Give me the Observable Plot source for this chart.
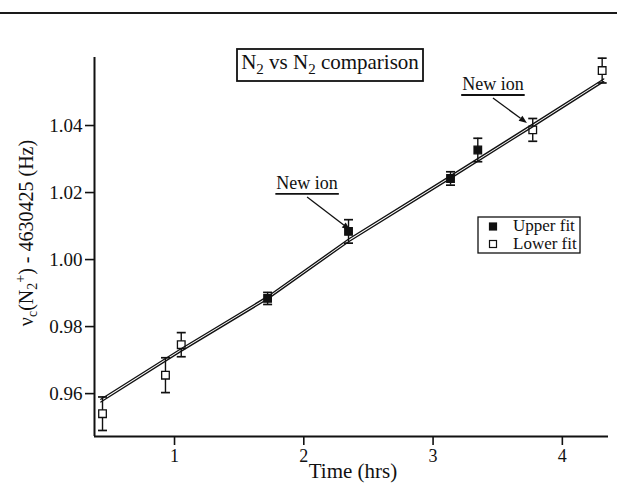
<!DOCTYPE html>
<html>
<head>
<meta charset="utf-8">
<script src="https://cdn.jsdelivr.net/npm/d3@7"></script>
<script src="https://cdn.jsdelivr.net/npm/@observablehq/plot@0.6"></script>
<style>
  body { margin: 0; background: #fff; }
  #wrap { position: relative; width: 617px; height: 487px; overflow: hidden; background: #fff; }
  #rule { position: absolute; left: 0; top: 12px; width: 617px; height: 2px; background: #1a1a1a; }
  #wrap svg { position: absolute; left: 0; top: 0; }
</style>
</head>
<body>
<div id="wrap"><div id="rule"></div></div>
<script>
// Axis ticks
const xTicks = [1, 2, 3, 4];
const yTicks = [0.96, 0.98, 1.00, 1.02, 1.04];
const xDomain = [0.381, 4.357];
const yDomain = [0.9472, 1.0603];

// Cyclotron frequency measurements (offset from 4630425 Hz) with 1σ errors
const time  = [0.443, 0.930, 1.052, 1.720, 2.346, 3.135, 3.346, 3.771, 4.308];
const freq  = [0.9540, 0.9655, 0.9746, 0.9884, 1.0084, 1.0242, 1.0327, 1.0387, 1.0564];
const err   = [0.0050, 0.0052, 0.0036, 0.0018, 0.0035, 0.0020, 0.0035, 0.0034, 0.0037];
const fitOf = ["Lower", "Lower", "Lower", "Upper", "Upper", "Upper", "Upper", "Lower", "Lower"];

// Drift fits (upper and lower)
const fitTime  = [0.43, 1.05, 1.72, 2.35, 3.13, 3.77, 4.32];
const fitUpper = [0.9583, 0.9734, 0.9890, 1.0062, 1.0249, 1.0404, 1.0539];
const fitLower = [0.9575, 0.9726, 0.9882, 1.0054, 1.0241, 1.0396, 1.0531];

// Ion reloads marked on the plot
const newIonTime = [2.362, 3.730];
const newIonFreq = [1.0087, 1.0406];
const newIonLabel = ["New ion", "New ion"];

const ink = "#111";
const serif = "'Liberation Serif', 'Times New Roman', serif";

const rows = time.map((t, i) => ({
  time: t, freq: freq[i], lo: freq[i] - err[i], hi: freq[i] + err[i], fit: fitOf[i]
}));
const fitRows = [
  ...fitTime.map((t, i) => ({ time: t, freq: fitUpper[i], series: "upper" })),
  ...fitTime.map((t, i) => ({ time: t, freq: fitLower[i], series: "lower" }))
];

// Horizontal cap drawn as a symbol so it stays a fixed pixel width
const cap = {
  draw(ctx, size) {
    const w = Math.sqrt(size / Math.PI);
    ctx.moveTo(-w, 0);
    ctx.lineTo(w, 0);
  }
};

const plot = Plot.plot({
  width: 617,
  height: 487,
  marginTop: 57,
  marginBottom: 51,
  marginLeft: 94,
  marginRight: 9,
  style: { fontFamily: serif, fontSize: "18px", color: ink, background: "transparent" },
  x: { domain: xDomain },
  y: { domain: yDomain },
  marks: [
    Plot.ruleX(rows, { x: "time", y1: "lo", y2: "hi", stroke: ink, strokeWidth: 1.4 }),
    Plot.dot(rows, { x: "time", y: "hi", symbol: cap, r: 4.5, stroke: ink, strokeWidth: 1.7 }),
    Plot.dot(rows, { x: "time", y: "lo", symbol: cap, r: 4.5, stroke: ink, strokeWidth: 1.7 }),
    Plot.dot(rows.filter(d => d.fit === "Upper"), { x: "time", y: "freq", symbol: "square", r: 4.3, fill: ink, stroke: ink, strokeWidth: 1.2 }),
    Plot.dot(rows.filter(d => d.fit === "Lower"), { x: "time", y: "freq", symbol: "square", r: 4.3, fill: "white", stroke: ink, strokeWidth: 1.3 }),
    Plot.line(fitRows, { x: "time", y: "freq", z: "series", stroke: ink, strokeWidth: 1.35 }),
    Plot.ruleX([xDomain[0]], { stroke: ink, strokeWidth: 2 }),
    Plot.ruleY([yDomain[0]], { stroke: ink, strokeWidth: 2 }),
    Plot.axisX({ ticks: xTicks, tickSize: 9, tickPadding: 4, tickFormat: d3.format("d"), label: null, fontSize: 18, strokeWidth: 1.6 }),
    Plot.axisY({ ticks: yTicks, tickSize: 9, tickPadding: 3, tickFormat: d3.format(".2f"), label: null, fontSize: 19, strokeWidth: 1.6 })
  ]
});

document.getElementById("wrap").appendChild(plot);

const sx = plot.scale("x"), sy = plot.scale("y");
const svg = d3.select(plot);
const g = svg.append("g").attr("font-family", serif).attr("fill", ink).attr("text-anchor", "start");

// Axis titles
g.append("text")
  .attr("x", (sx.range[0] + sx.range[1]) / 2 + 2)
  .attr("y", 478)
  .attr("text-anchor", "middle")
  .attr("font-size", 21)
  .text("Time (hrs)");

const yl = g.append("text")
  .attr("transform", "translate(33,233) rotate(-90)")
  .attr("text-anchor", "middle")
  .attr("font-size", 20);
yl.append("tspan").text("ν");
yl.append("tspan").attr("dy", 4).attr("font-size", 14).text("c");
yl.append("tspan").attr("dy", -4).text("(N");
yl.append("tspan").attr("dy", 4).attr("font-size", 14).text("2");
yl.append("tspan").attr("dy", -12).attr("font-size", 14).text("+");
yl.append("tspan").attr("dy", 8).text(") - 4630425 (Hz)");

// Boxed title
g.append("rect").attr("x", 237).attr("y", 49).attr("width", 186).attr("height", 32)
  .attr("fill", "white").attr("stroke", ink).attr("stroke-width", 1.8);
const tt = g.append("text").attr("x", 330).attr("y", 69).attr("text-anchor", "middle").attr("font-size", 21);
tt.append("tspan").text("N");
tt.append("tspan").attr("dy", 5).attr("font-size", 15).text("2");
tt.append("tspan").attr("dy", -5).text(" vs N");
tt.append("tspan").attr("dy", 5).attr("font-size", 15).text("2");
tt.append("tspan").attr("dy", -5).text(" comparison");

// Legend
g.append("rect").attr("x", 478).attr("y", 217).attr("width", 102).attr("height", 36)
  .attr("fill", "white").attr("stroke", ink).attr("stroke-width", 1.3);
[["Upper fit", ink, 231], ["Lower fit", "white", 248.5]].forEach(([label, fill, base]) => {
  g.append("rect").attr("x", 489.5).attr("y", base - 8).attr("width", 7).attr("height", 7)
    .attr("fill", fill).attr("stroke", ink).attr("stroke-width", 1.2);
  g.append("text").attr("x", 513).attr("y", base).attr("text-anchor", "start")
    .attr("font-size", 17).text(label);
});

// "New ion" call-outs
const calloutOffsets = [[-43, -33], [-34, -25]];
newIonTime.forEach((t, i) => {
  const ex = sx.apply(t), ey = sy.apply(newIonFreq[i]);
  const [ox, oy] = calloutOffsets[i];
  const bx = ex + ox, by = ey + oy;
  const ang = Math.atan2(ey - by, ex - bx);
  const L = 8, W = 3.2;
  const hx = ex - L * Math.cos(ang), hy = ey - L * Math.sin(ang);
  g.append("line").attr("x1", bx).attr("y1", by).attr("x2", hx).attr("y2", hy)
    .attr("stroke", ink).attr("stroke-width", 1.3);
  g.append("path")
    .attr("d", `M${ex},${ey}L${hx + W * Math.sin(ang)},${hy - W * Math.cos(ang)}L${hx - W * Math.sin(ang)},${hy + W * Math.cos(ang)}Z`)
    .attr("fill", ink);
  const txt = g.append("text").attr("x", bx).attr("y", by - 8).attr("text-anchor", "middle")
    .attr("font-size", 18).text(newIonLabel[i]);
  const w = txt.node().getComputedTextLength();
  g.append("line").attr("x1", bx - w / 2 - 1).attr("x2", bx + w / 2 + 1)
    .attr("y1", by - 3).attr("y2", by - 3).attr("stroke", ink).attr("stroke-width", 1.8);
});
</script>
</body>
</html>
